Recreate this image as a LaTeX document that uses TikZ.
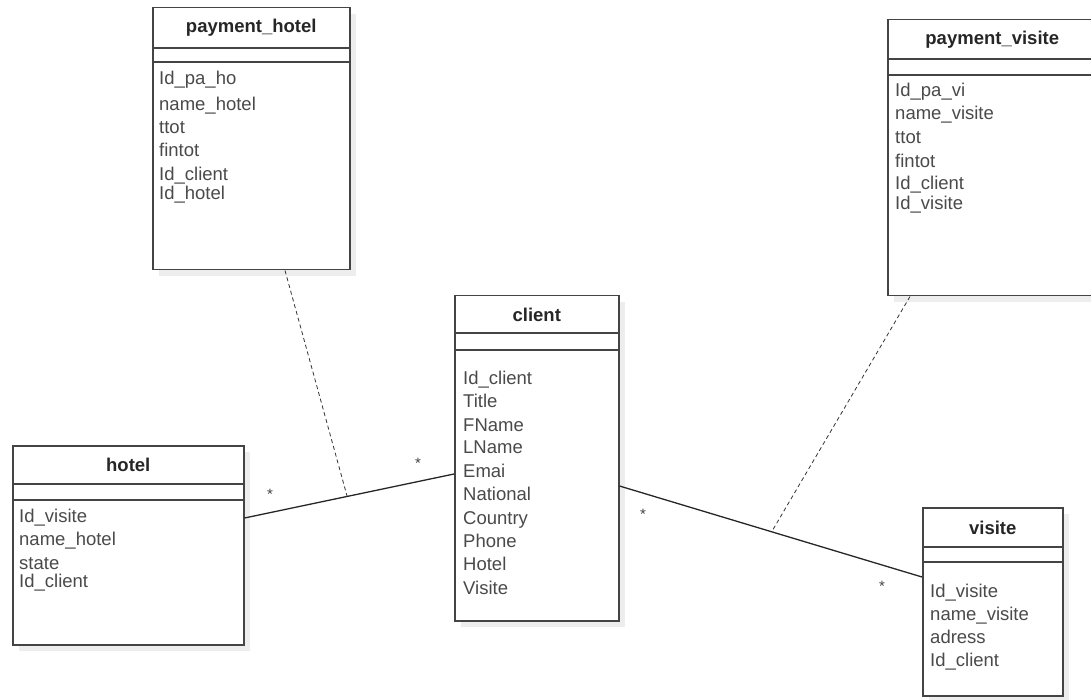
\documentclass[tikz,border=0pt]{standalone}
\usepackage{fontspec}
\setmainfont{Liberation Sans}
\usetikzlibrary{shadows}
\definecolor{linegray}{HTML}{444444}
\definecolor{attrgray}{HTML}{4A4A4A}
\begin{document}
\begin{tikzpicture}[
		x=1pt, y=-1pt,
		tbl/.style={rectangle, draw=linegray, line width=1.5pt, fill=white, anchor=north west, inner sep=0pt,
				drop shadow={shadow xshift=6pt, shadow yshift=-6pt, fill=black!7, opacity=1}},
		ttl/.style={font=\fontsize{18.5}{21}\selectfont\bfseries, text=black!85, inner sep=0pt},
		attr/.style={font=\fontsize{18.5}{21}\selectfont, text=attrgray, anchor=west, inner sep=0pt,
				text height=13pt, text depth=4pt, yshift=-2pt},
		sep/.style={draw=linegray, line width=1.4pt},
		assoc/.style={draw=black!85, line width=1.3pt},
		link/.style={draw=black!80, line width=0.8pt, dash pattern=on 4pt off 3pt},
		mult/.style={font=\fontsize{15}{18}\selectfont, text=black!75, inner sep=0pt}
	]
	\useasboundingbox (0,0) rectangle (1091,700);

	% boxes
	\node[tbl, minimum width=197, minimum height=262] (payhotel) at (152,7) {};
	\node[tbl, minimum width=209, minimum height=276] (payvisite) at (887,19) {};
	\node[tbl, minimum width=164, minimum height=325] (client) at (454,295) {};
	\node[tbl, minimum width=231, minimum height=199] (hotel) at (12,445) {};
	\node[tbl, minimum width=140, minimum height=188] (visite) at (922,507) {};

	% titles and separators
	\node[ttl] (payhotel-t) at (payhotel.north |- 0,28) {payment\_hotel};
	\draw[sep] (payhotel.west |- 0,48) -- (payhotel.east |- 0,48);
	\draw[sep] (payhotel.west |- 0,62) -- (payhotel.east |- 0,62);

	\node[ttl] (payvisite-t) at (payvisite.north |- 0,40) {payment\_visite};
	\draw[sep] (payvisite.west |- 0,59) -- (payvisite.east |- 0,59);
	\draw[sep] (payvisite.west |- 0,75) -- (payvisite.east |- 0,75);

	\node[ttl] (client-t) at (client.north |- 0,315) {client};
	\draw[sep] (client.west |- 0,333) -- (client.east |- 0,333);
	\draw[sep] (client.west |- 0,350) -- (client.east |- 0,350);

	\node[ttl] (hotel-t) at (hotel.north |- 0,465) {hotel};
	\draw[sep] (hotel.west |- 0,484) -- (hotel.east |- 0,484);
	\draw[sep] (hotel.west |- 0,500) -- (hotel.east |- 0,500);

	\node[ttl] (visite-t) at (visite.north |- 0,528) {visite};
	\draw[sep] (visite.west |- 0,547) -- (visite.east |- 0,547);
	\draw[sep] (visite.west |- 0,562) -- (visite.east |- 0,562);

	% attributes
	\foreach \y/\t in {78/Id\_pa\_ho, 104/name\_hotel, 127/ttot, 150/fintot, 174/Id\_client, 193/Id\_hotel}
	\node[attr] (payhotel-\y) at (159,\y) {\t};
	\foreach \y/\t in {90/Id\_pa\_vi, 113/name\_visite, 137/ttot, 161/fintot, 183/Id\_client, 203/Id\_visite}
	\node[attr] (payvisite-\y) at (895,\y) {\t};
	\foreach \y/\t in {378/Id\_client, 401/Title, 425/FName, 447/LName, 471/Emai, 494/National, 518/Country, 541/Phone, 564/Hotel, 588/Visite}
	\node[attr] (client-\y) at (463,\y) {\t};
	\foreach \y/\t in {516/Id\_visite, 539/name\_hotel, 563/state, 581/Id\_client}
	\node[attr] (hotel-\y) at (19,\y) {\t};
	\foreach \y/\t in {591/Id\_visite, 614/name\_visite, 637/adress, 660/Id\_client}
	\node[attr] (visite-\y) at (930,\y) {\t};

	% associations
	\draw[assoc] (hotel.east |- 0,518) -- coordinate[pos=0.49] (hc) (client.west |- 0,474);
	\draw[assoc] (client.east |- 0,486) -- coordinate[pos=0.503] (cv) (visite.west |- 0,577);
	\draw[link] (payhotel.south -| 285,0) -- (hc);
	\draw[link] (payvisite.south -| 910,0) -- (cv);

	% multiplicities
	\node[mult] (m1) at (270,494) {*};
	\node[mult] (m2) at (418,463) {*};
	\node[mult] (m3) at (643,514) {*};
	\node[mult] (m4) at (882,586) {*};
\end{tikzpicture}
\end{document}
